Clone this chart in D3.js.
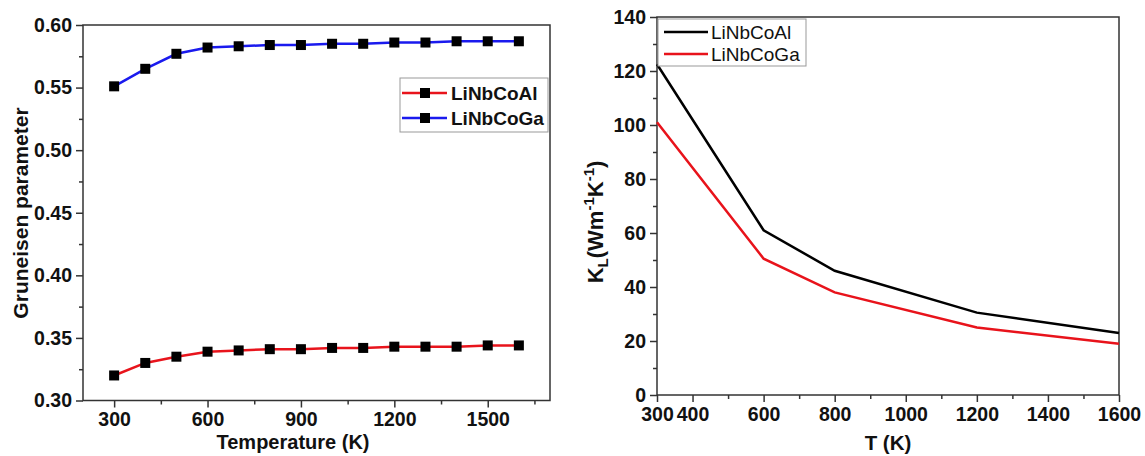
<!DOCTYPE html>
<html>
<head>
<meta charset="utf-8">
<script src="https://cdn.jsdelivr.net/npm/d3@7"></script>
<style>
  body { margin: 0; background: #fff; }
  svg { font-family: "Liberation Sans", Arial, sans-serif; }
  .axis path { display: none; }
  .axis line { stroke: #333; stroke-width: 1.5; }
  .axis text { font-size: 19.5px; font-weight: bold; fill: #111; }
</style>
</head>
<body>
<svg id="chart" width="1145" height="456"></svg>
<script>
// left panel: Gruneisen parameter
const tempsG = [300, 400, 500, 600, 700, 800, 900, 1000, 1100, 1200, 1300, 1400, 1500, 1600];
const gammaAl = [0.320, 0.330, 0.335, 0.339, 0.340, 0.341, 0.341, 0.342, 0.342, 0.343, 0.343, 0.343, 0.344, 0.344];
const gammaGa = [0.551, 0.565, 0.577, 0.582, 0.583, 0.584, 0.584, 0.585, 0.585, 0.586, 0.586, 0.587, 0.587, 0.587];
const leftXTicks = [300, 600, 900, 1200, 1500];
const leftXMinor = [450, 750, 1050, 1350, 1650];
const leftYTicks = [0.30, 0.35, 0.40, 0.45, 0.50, 0.55, 0.60];
const leftYMinor = [0.325, 0.375, 0.425, 0.475, 0.525, 0.575];

// right panel: lattice thermal conductivity
const tempsK = [300, 600, 800, 1200, 1600];
const kappaAl = [122.5, 61, 46, 30.5, 23];
const kappaGa = [101, 50.5, 38, 25, 19];
const rightXTicks = [300, 400, 600, 800, 1000, 1200, 1400, 1600];
const rightXMinor = [500, 700, 900, 1100, 1300, 1500];
const rightYTicks = [0, 20, 40, 60, 80, 100, 120, 140];
const rightYMinor = [10, 30, 50, 70, 90, 110, 130];

const series = ['LiNbCoAl', 'LiNbCoGa'];

const svg = d3.select('#chart');

function frameAndAxes(x, y, xt, xm, yt, ym, yFmt) {
    const g = svg.append('g');
    const [x0, x1] = x.range();
    const [y0, y1] = y.range();

    g.append('g').attr('class', 'axis')
        .attr('transform', `translate(0,${y0})`)
        .call(d3.axisBottom(x).tickValues(xm).tickSize(4).tickFormat(''));
    g.append('g').attr('class', 'axis')
        .attr('transform', `translate(0,${y0})`)
        .call(d3.axisBottom(x).tickValues(xt).tickSize(7).tickPadding(5).tickFormat(d3.format('d')));
    g.append('g').attr('class', 'axis')
        .attr('transform', `translate(${x0},0)`)
        .call(d3.axisLeft(y).tickValues(ym).tickSize(4).tickFormat(''));
    g.append('g').attr('class', 'axis')
        .attr('transform', `translate(${x0},0)`)
        .call(d3.axisLeft(y).tickValues(yt).tickSize(7).tickPadding(4).tickFormat(yFmt));

    g.append('rect')
        .attr('x', x0).attr('y', y1)
        .attr('width', x1 - x0).attr('height', y0 - y1)
        .attr('fill', 'none').attr('stroke', '#333').attr('stroke-width', 1.5);
    return g;
}

// ---------- left panel ----------
const xL = d3.scaleLinear().domain([200, 1700]).range([83, 550]);
const yL = d3.scaleLinear().domain([0.30, 0.60]).range([400.5, 25]);
frameAndAxes(xL, yL, leftXTicks, leftXMinor, leftYTicks, leftYMinor, d3.format('.2f'));

const leftColors = ['#e8141c', '#1a1aee'];
const lineL = d3.line().x(d => xL(d[0])).y(d => yL(d[1]));
[gammaAl, gammaGa].forEach((vals, i) => {
    const pts = tempsG.map((t, j) => [t, vals[j]]);
    svg.append('path').datum(pts)
        .attr('d', lineL).attr('fill', 'none')
        .attr('stroke', leftColors[i]).attr('stroke-width', 2.5);
    svg.selectAll(null).data(pts).enter().append('rect')
        .attr('x', d => xL(d[0]) - 5).attr('y', d => yL(d[1]) - 5)
        .attr('width', 10).attr('height', 10).attr('fill', '#000');
});

// legend left
const legL = svg.append('g');
legL.append('rect').attr('x', 400).attr('y', 78).attr('width', 148).attr('height', 54)
    .attr('fill', '#fff').attr('stroke', '#999').attr('stroke-width', 1);
series.forEach((s, i) => {
    const yy = 93 + i * 25;
    legL.append('line').attr('x1', 402).attr('x2', 447).attr('y1', yy).attr('y2', yy)
        .attr('stroke', leftColors[i]).attr('stroke-width', 2.5);
    legL.append('rect').attr('x', 420).attr('y', yy - 5).attr('width', 10).attr('height', 10).attr('fill', '#000');
    legL.append('text').attr('x', 451).attr('y', yy + 7)
        .attr('font-size', 19).attr('font-weight', 'bold').attr('fill', '#111').text(s);
});

svg.append('text').attr('x', 293).attr('y', 449).attr('text-anchor', 'middle')
    .attr('font-size', 20).attr('font-weight', 'bold').attr('fill', '#111').text('Temperature (K)');
svg.append('text').attr('transform', 'translate(28,213) rotate(-90)').attr('text-anchor', 'middle')
    .attr('font-size', 21).attr('font-weight', 'bold').attr('fill', '#111').text('Gruneisen parameter');

// ---------- right panel ----------
const xR = d3.scaleLinear().domain([300, 1600]).range([657, 1119]);
const yR = d3.scaleLinear().domain([0, 140]).range([395, 17]);
frameAndAxes(xR, yR, rightXTicks, rightXMinor, rightYTicks, rightYMinor, d3.format('d'));

const rightColors = ['#000000', '#e8131b'];
const lineR = d3.line().x(d => xR(d[0])).y(d => yR(d[1]));
[kappaAl, kappaGa].forEach((vals, i) => {
    svg.append('path').datum(tempsK.map((t, j) => [t, vals[j]]))
        .attr('d', lineR).attr('fill', 'none')
        .attr('stroke', rightColors[i]).attr('stroke-width', 2.5);
});

const legR = svg.append('g');
legR.append('rect').attr('x', 658).attr('y', 19).attr('width', 148).attr('height', 47)
    .attr('fill', '#fff').attr('stroke', '#999').attr('stroke-width', 1);
series.forEach((s, i) => {
    const yy = 32 + i * 22;
    legR.append('line').attr('x1', 664).attr('x2', 708).attr('y1', yy).attr('y2', yy)
        .attr('stroke', rightColors[i]).attr('stroke-width', 2.5);
    legR.append('text').attr('x', 711).attr('y', yy + 7)
        .attr('font-size', 19).attr('fill', '#111').text(s);
});

svg.append('text').attr('x', 888).attr('y', 450).attr('text-anchor', 'middle')
    .attr('font-size', 20.5).attr('font-weight', 'bold').attr('fill', '#111').text('T (K)');

const yTitle = svg.append('text').attr('transform', 'translate(603,222) rotate(-90)')
    .attr('text-anchor', 'middle').attr('font-size', 22).attr('font-weight', 'bold').attr('fill', '#111');
yTitle.append('tspan').text('K');
yTitle.append('tspan').attr('font-size', 15).attr('dy', 5).text('L');
yTitle.append('tspan').attr('dy', -5).text('(Wm');
yTitle.append('tspan').attr('font-size', 15).attr('dy', -9).text('-1');
yTitle.append('tspan').attr('dy', 9).text('K');
yTitle.append('tspan').attr('font-size', 15).attr('dy', -9).text('-1');
yTitle.append('tspan').attr('dy', 9).text(')');
</script>
</body>
</html>
